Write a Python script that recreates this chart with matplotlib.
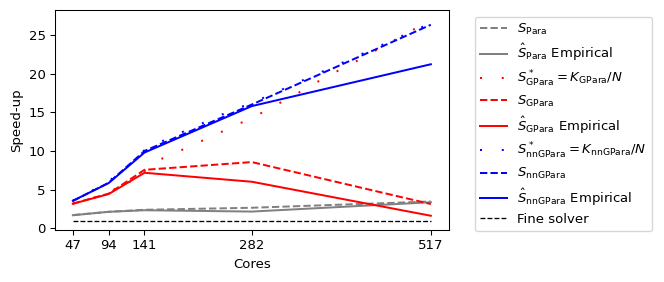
import matplotlib
matplotlib.use('Agg')
import matplotlib.pyplot as plt

# numero de cores en el eje x
cores = [47, 94, 141, 282, 517]

# speed-up de Para (teorico y empirico)
s_para = [1.73, 2.15, 2.41, 2.67, 3.48]
s_para_emp = [1.70, 2.15, 2.35, 2.18, 3.38]

# speed-up de GPara
s_gpara = [3.2, 4.5, 7.57, 8.57, 3.15]
s_gpara_emp = [3.19, 4.44, 7.19, 6.03, 1.64]

# speed-up de nnGPara
s_nngpara = [3.55, 5.9, 10.0, 16.0, 26.3]
s_nngpara_emp = [3.57, 5.86, 9.8, 15.8, 21.2]

# S* = K/N (curvas punteadas)
cores_gstar = [47, 94, 100, 104, 108, 112, 116, 120, 124, 128, 132, 136, 141,
               152, 178, 205, 232, 258, 285, 311, 336, 362, 388, 414, 465, 491, 516]
s_gpara_star = [3.2, 4.5, 4.9, 5.3, 5.1, 5.7, 5.5, 6.1, 5.9, 6.5, 6.4, 7.0, 7.4,
                8.5, 9.6, 10.8, 12.0, 13.2, 14.4, 15.8, 17.1, 18.6, 20.0, 21.3, 24.1, 25.5, 26.9]

cores_nnstar = [47, 94, 100, 106, 112, 118, 124, 130, 136, 141,
                160, 180, 200, 220, 240, 260, 282, 517]
s_nngpara_star = [3.6, 6.0, 6.6, 6.9, 7.6, 7.9, 8.6, 8.9, 9.6, 10.1,
                  11.1, 11.9, 12.9, 13.7, 14.6, 15.4, 16.2, 26.5]

fine_solver = [1, 1, 1, 1, 1]

plt.rcParams['font.size'] = 10

fig = plt.figure(figsize=(664 / 95, 282 / 95), dpi=95)
ax = fig.add_axes([0.0828, 0.1844, 0.593, 0.780])

punteado = (0, (1, 10))  # loosely dotted

ax.plot(cores, s_para, '--', color='gray', label=r'$S_{\mathrm{Para}}$')
ax.plot(cores, s_para_emp, '-', color='gray', label=r'$\hat{S}_{\mathrm{Para}}$ Empirical')
ax.plot(cores_gstar, s_gpara_star, linestyle=punteado, color='red',
        label=r'$S^*_{\mathrm{GPara}} = K_{\mathrm{GPara}}/N$')
ax.plot(cores, s_gpara, '--', color='red', label=r'$S_{\mathrm{GPara}}$')
ax.plot(cores, s_gpara_emp, '-', color='red', label=r'$\hat{S}_{\mathrm{GPara}}$ Empirical')
ax.plot(cores_nnstar, s_nngpara_star, linestyle=punteado, color='blue',
        label=r'$S^*_{\mathrm{nnGPara}} = K_{\mathrm{nnGPara}}/N$')
ax.plot(cores, s_nngpara, '--', color='blue', label=r'$S_{\mathrm{nnGPara}}$')
ax.plot(cores, s_nngpara_emp, '-', color='blue', label=r'$\hat{S}_{\mathrm{nnGPara}}$ Empirical')
ax.plot(cores, fine_solver, '--', color='k', linewidth=1, label='Fine solver')

ax.set_xticks(cores)
ax.set_xlim(23.5, 540.5)
ax.set_ylim(-0.2, 28.2)
ax.set_xlabel('Cores')
ax.set_ylabel('Speed-up')
ax.legend(loc='upper left', bbox_to_anchor=(1.05, 1), labelspacing=0.4)

fig.savefig('out.png', dpi=95)
